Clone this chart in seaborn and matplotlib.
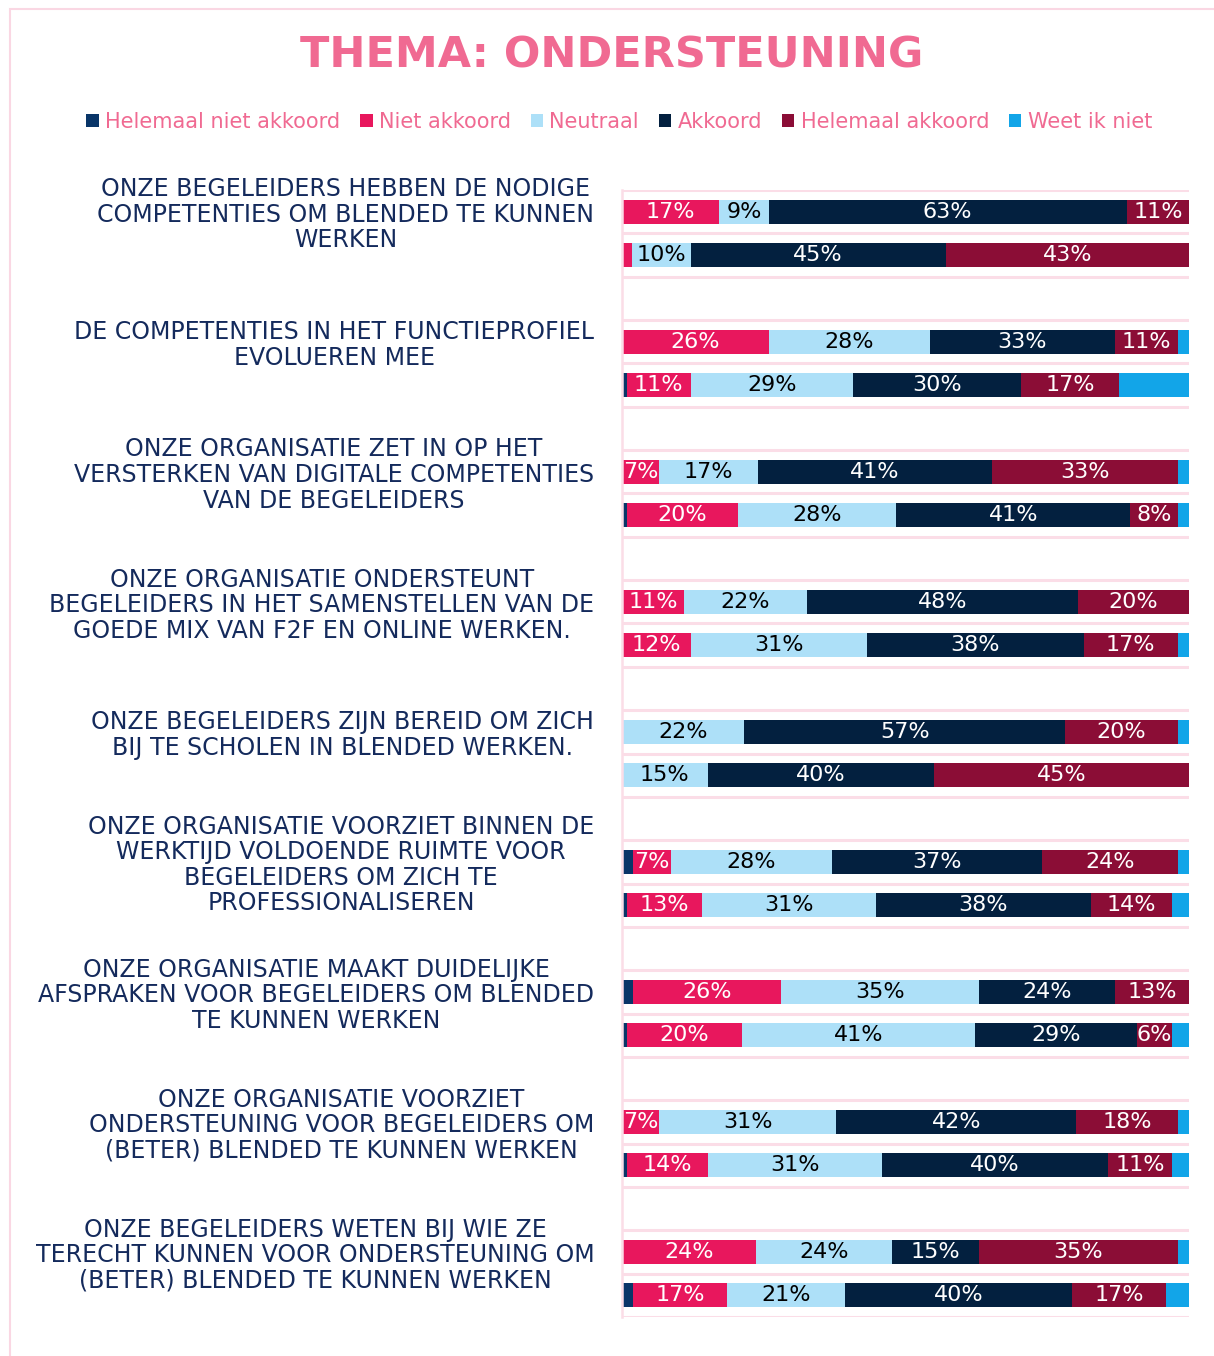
import seaborn as sns
import matplotlib.pyplot as plt
import pandas as pd
from matplotlib.patches import Patch, Rectangle

sns.set_theme(style="white")
plt.rcParams["font.family"] = ["DejaVu Sans"]

questions = [
    "ONZE BEGELEIDERS HEBBEN DE NODIGE\nCOMPETENTIES OM BLENDED TE KUNNEN\nWERKEN",
    "DE COMPETENTIES IN HET FUNCTIEPROFIEL\nEVOLUEREN MEE",
    "ONZE ORGANISATIE ZET IN OP HET\nVERSTERKEN VAN DIGITALE COMPETENTIES\nVAN DE BEGELEIDERS",
    "ONZE ORGANISATIE ONDERSTEUNT\nBEGELEIDERS IN HET SAMENSTELLEN VAN DE\nGOEDE MIX VAN F2F EN ONLINE WERKEN.",
    "ONZE BEGELEIDERS ZIJN BEREID OM ZICH\nBIJ TE SCHOLEN IN BLENDED WERKEN.",
    "ONZE ORGANISATIE VOORZIET BINNEN DE\nWERKTIJD VOLDOENDE RUIMTE VOOR\nBEGELEIDERS OM ZICH TE\nPROFESSIONALISEREN",
    "ONZE ORGANISATIE MAAKT DUIDELIJKE\nAFSPRAKEN VOOR BEGELEIDERS OM BLENDED\nTE KUNNEN WERKEN",
    "ONZE ORGANISATIE VOORZIET\nONDERSTEUNING VOOR BEGELEIDERS OM\n(BETER) BLENDED TE KUNNEN WERKEN",
    "ONZE BEGELEIDERS WETEN BIJ WIE ZE\nTERECHT KUNNEN VOOR ONDERSTEUNING OM\n(BETER) BLENDED TE KUNNEN WERKEN",
]

answers = ["Helemaal niet akkoord", "Niet akkoord", "Neutraal", "Akkoord",
           "Helemaal akkoord", "Weet ik niet"]

# two bars per question (a, b)
helemaal_niet = [0, 0, 0, 0.8, 0, 0.8, 0, 0, 0, 0, 2.0, 0.8, 2.0, 0.8, 0, 0.8, 0, 2.0]
niet = [17.1, 1.8, 25.9, 11.3, 6.6, 19.7, 10.9, 12.2, 0, 0, 6.6, 13.3, 26.1, 20.4, 6.6, 14.3, 23.7, 16.6]
neutraal = [8.8, 10.3, 28.4, 28.7, 17.3, 27.9, 21.7, 31.0, 21.6, 15.1, 28.4, 30.7, 34.9, 41.0, 31.2, 30.7, 24.0, 20.7]
akkoord = [63.1, 45.0, 32.6, 29.6, 41.4, 41.2, 47.8, 38.2, 56.6, 39.9, 37.1, 37.9, 23.9, 28.6, 42.3, 39.9, 15.2, 40.1]
helemaal = [11.0, 42.9, 11.1, 17.3, 32.7, 8.4, 19.6, 16.6, 19.8, 45.0, 23.9, 14.3, 13.1, 6.2, 17.9, 11.3, 35.1, 16.6]
weet_niet = [0, 0, 2.0, 12.3, 2.0, 2.0, 0, 2.0, 2.0, 0, 2.0, 3.0, 0, 3.0, 2.0, 3.0, 2.0, 4.0]

colors = ["#093568", "#E8175D", "#ADE0F8", "#03203F", "#8B0D36", "#12A5E8"]
label_colors = [None, "white", "black", "white", "white", None]
pink = "#F06A92"
navy = "#142A5C"
grid_pink = "#FBDDE7"

layers = [helemaal_niet, niet, neutraal, akkoord, helemaal, weet_niet]

# slots: a, b bar per question and an empty slot in between
slots = []
order = []
for i in range(len(questions)):
    slots += [f"{i}a", f"{i}b"]
    order += [f"{i}a", f"{i}b"]
    if i < len(questions) - 1:
        order.append(f"{i}gap")

fig = plt.figure(figsize=(12.14, 13.56), dpi=100)
ax = fig.add_axes([622 / 1214, 1 - 1317 / 1356, (1189 - 622) / 1214, (1317 - 190) / 1356])

# stacked bars: draw cumulative totals from the largest down
for k in reversed(range(len(layers))):
    cum = [sum(layers[j][n] for j in range(k + 1)) for n in range(len(slots))]
    df = pd.DataFrame({"slot": slots, "value": cum})
    sns.barplot(data=df, x="value", y="slot", order=order, color=colors[k],
                saturation=1, width=0.55, linewidth=0, orient="h", ax=ax)

# value labels
for n, slot in enumerate(slots):
    pos = order.index(slot)
    left = 0
    for k, layer in enumerate(layers):
        v = layer[n]
        if label_colors[k] and v >= 5:
            ax.text(left + v / 2, pos, f"{v:.0f}%", ha="center", va="center",
                    color=label_colors[k], fontsize=16)
        left += v

ax.set_xlim(0, 100)
ax.set_ylim(len(order) - 0.5, -0.5)
ax.set_xlabel("")
ax.set_ylabel("")
ax.set_xticks([])
ax.set_yticks([order.index(f"{i}a") for i in range(len(questions))])
ax.set_yticklabels(questions, ha="right", multialignment="center",
                   color=navy, fontsize=17, linespacing=1.08)
ax.tick_params(axis="y", length=0, pad=20)
ax.set_yticks([p - 0.5 for p in range(len(order) + 1)], minor=True)
ax.grid(False)
ax.grid(True, which="minor", axis="y", color=grid_pink, linewidth=2.2)
ax.tick_params(axis="y", which="minor", length=0)
for side in ["top", "right", "bottom"]:
    ax.spines[side].set_visible(False)
ax.spines["left"].set_color(grid_pink)
ax.spines["left"].set_linewidth(1.8)

fig.text(0.504, 1 - 55 / 1356, "THEMA: ONDERSTEUNING", ha="center", va="center",
         fontsize=31, fontweight="bold", color=pink)

handles = [Patch(facecolor=c, edgecolor="none", label=a) for c, a in zip(colors, answers)]
leg = fig.legend(handles=handles, loc="center", bbox_to_anchor=(0.51, 1 - 122 / 1356),
                 ncol=6, frameon=False, fontsize=15, handlelength=0.6, handleheight=0.6,
                 handletextpad=0.3, columnspacing=0.95)
for t in leg.get_texts():
    t.set_color(pink)

fig.patches.append(Rectangle((10 / 1214, -0.05), 1.1, 0.05 + 1 - 9 / 1356, fill=False,
                             edgecolor="#FAD7E3", linewidth=1.5,
                             transform=fig.transFigure, figure=fig))

fig.savefig("out.png", dpi=100)
